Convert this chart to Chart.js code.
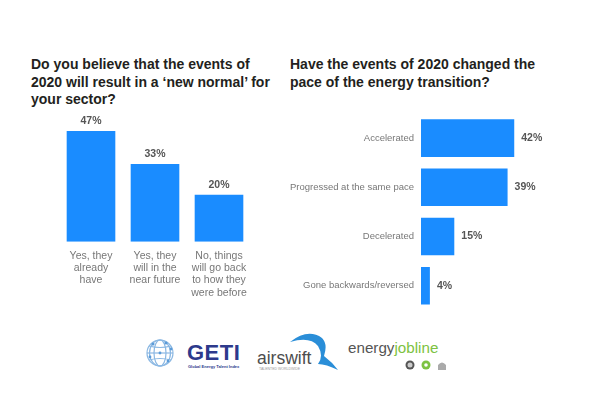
<!DOCTYPE html>
<html>
<head>
<meta charset="utf-8">
<script src="https://cdn.jsdelivr.net/npm/chart.js@4/dist/chart.umd.min.js"></script>
<style>
  body { margin: 0; background: #fff; font-family: "Liberation Sans", Arial, sans-serif; }
  #page { position: relative; width: 594px; height: 396px; overflow: hidden; background: #fff; }
  .title { position: absolute; font-weight: bold; font-size: 14px; line-height: 17.5px; color: #231f20; }
  .box { position: absolute; }
  .logo { position: absolute; }
</style>
</head>
<body>
<div id="page">
  <div class="title" style="left:31px; top:56px; width:260px;">Do you believe that the events of<br>2020 will result in a ‘new normal’ for<br>your sector?</div>
  <div class="title" style="left:290px; top:56px; width:280px;">Have the events of 2020 changed the<br>pace of the energy transition?</div>

  <div class="box" style="left:0; top:100px;"><canvas id="normalChart" width="290" height="223"></canvas></div>
  <div class="box" style="left:280px; top:100px;"><canvas id="paceChart" width="314" height="223"></canvas></div>

  <!-- logos -->
  <svg class="logo" style="left:144px; top:337px;" width="32" height="32" viewBox="0 0 32 32">
    <g fill="none" stroke="#8bb8e3" stroke-width="1.2">
      <circle cx="16" cy="16" r="13"/>
      <ellipse cx="16" cy="16" rx="6" ry="13"/>
      <ellipse cx="16" cy="16" rx="10.5" ry="13"/>
      <line x1="3" y1="16" x2="29" y2="16"/>
      <path d="M5 9 Q16 12 27 9"/>
      <path d="M5 23 Q16 20 27 23"/>
    </g>
    <g fill="#5b9bd8">
      <circle cx="9" cy="7" r="1.6"/><circle cx="22" cy="6" r="1.6"/>
      <circle cx="27" cy="12" r="1.4"/><circle cx="16" cy="16" r="1.4"/>
      <circle cx="6" cy="20" r="1.4"/><circle cx="24" cy="24" r="1.4"/>
    </g>
  </svg>
  <div class="logo" style="left:187px; top:340px; font: bold 22px 'Liberation Sans', Arial, sans-serif; color:#2d3a8c; letter-spacing:0.5px;">GETI</div>
  <div class="logo" style="left:188px; top:364px; font: bold 4px 'Liberation Sans', Arial, sans-serif; color:#2d3a8c;">Global Energy Talent Index</div>

  <svg class="logo" style="left:288px; top:330px;" width="52" height="42" viewBox="0 0 52 42">
    <path d="M2 12 Q20 -2 34 8 Q40 14 36 26 Q44 32 50 40 Q38 34 30 34 Q36 26 30 16 Q22 6 2 12 Z" fill="#2a8ed8"/>
  </svg>
  <div class="logo" style="left:257px; top:348px; font: 17.5px 'Liberation Sans', Arial, sans-serif; color:#4d4d4d;">airswift</div>
  <div class="logo" style="left:259px; top:367px; font: 3.5px 'Liberation Sans', Arial, sans-serif; color:#999;">TALENTED WORLDWIDE</div>

  <div class="logo" style="left:348px; top:339px; font: 15.2px 'Liberation Sans', Arial, sans-serif; color:#555;">energy<span style="color:#7dc242;">jobline</span></div>
  <svg class="logo" style="left:405px; top:359px;" width="42" height="12" viewBox="0 0 42 12">
    <circle cx="5" cy="6" r="4.5" fill="#555"/><circle cx="5" cy="6" r="2.5" fill="#ccc"/>
    <circle cx="21" cy="6" r="4.5" fill="#7dc242"/><circle cx="21" cy="6" r="1.8" fill="#fff"/>
    <path d="M33 11 V6 Q37 1 41 6 V11 Z" fill="#aaa"/>
  </svg>
</div>

<script>
// left chart: will 2020 result in a new normal
const normalLabels = [
  ['Yes, they', 'already', 'have'],
  ['Yes, they', 'will in the', 'near future'],
  ['No, things', 'will go back', 'to how they', 'were before']
];
const normalValues = [47, 33, 20];

// right chart: pace of energy transition
const paceLabels = ['Accelerated', 'Progressed at the same pace', 'Decelerated', 'Gone backwards/reversed'];
const paceValues = [42, 39, 15, 4];

const barBlue = '#1a8cff';

// draws the percentage next to each bar
const valueLabels = {
  id: 'valueLabels',
  afterDatasetsDraw(chart) {
    const ctx = chart.ctx;
    const horizontal = chart.options.indexAxis === 'y';
    const meta = chart.getDatasetMeta(0);
    ctx.save();
    ctx.font = 'bold 10.5px "Liberation Sans", Arial, sans-serif';
    ctx.fillStyle = '#555';
    meta.data.forEach((bar, i) => {
      const text = chart.data.datasets[0].data[i] + '%';
      if (horizontal) {
        ctx.textAlign = 'left';
        ctx.textBaseline = 'middle';
        ctx.fillText(text, bar.x + 7, bar.y);
      } else {
        ctx.textAlign = 'center';
        ctx.textBaseline = 'middle';
        ctx.fillText(text, bar.x, bar.y - 10);
      }
    });
    ctx.restore();
  }
};

new Chart(document.getElementById('normalChart').getContext('2d'), {
  type: 'bar',
  data: {
    labels: normalLabels,
    datasets: [{
      data: normalValues,
      backgroundColor: barBlue,
      categoryPercentage: 0.76,
      barPercentage: 1
    }]
  },
  options: {
    responsive: false,
    animation: false,
    layout: { padding: { left: 59, right: 39, top: 24, bottom: 16 } },
    plugins: { legend: { display: false }, tooltip: { enabled: false } },
    scales: {
      x: {
        grid: { display: false, drawTicks: false },
        border: { display: false },
        ticks: {
          color: '#777',
          padding: 8,
          maxRotation: 0,
          autoSkip: false,
          font: { family: '"Liberation Sans", Arial, sans-serif', size: 10.5, lineHeight: 1.17 }
        }
      },
      y: { display: false, min: 0, max: 50 }
    }
  },
  plugins: [valueLabels]
});

new Chart(document.getElementById('paceChart').getContext('2d'), {
  type: 'bar',
  data: {
    labels: paceLabels,
    datasets: [{
      data: paceValues,
      backgroundColor: barBlue,
      categoryPercentage: 0.765,
      barPercentage: 1
    }]
  },
  options: {
    indexAxis: 'y',
    responsive: false,
    animation: false,
    layout: { padding: { left: 5, right: 62, top: 13.5, bottom: 5.5 } },
    plugins: { legend: { display: false }, tooltip: { enabled: false } },
    scales: {
      x: { display: false, min: 0, max: 50 },
      y: {
        grid: { display: false, drawTicks: false },
        border: { display: false },
        afterFit: (scale) => { scale.width = 136; },
        ticks: {
          color: '#777',
          padding: 7,
          font: { family: '"Liberation Sans", Arial, sans-serif', size: 9.5 }
        }
      }
    }
  },
  plugins: [valueLabels]
});
</script>
</body>
</html>
